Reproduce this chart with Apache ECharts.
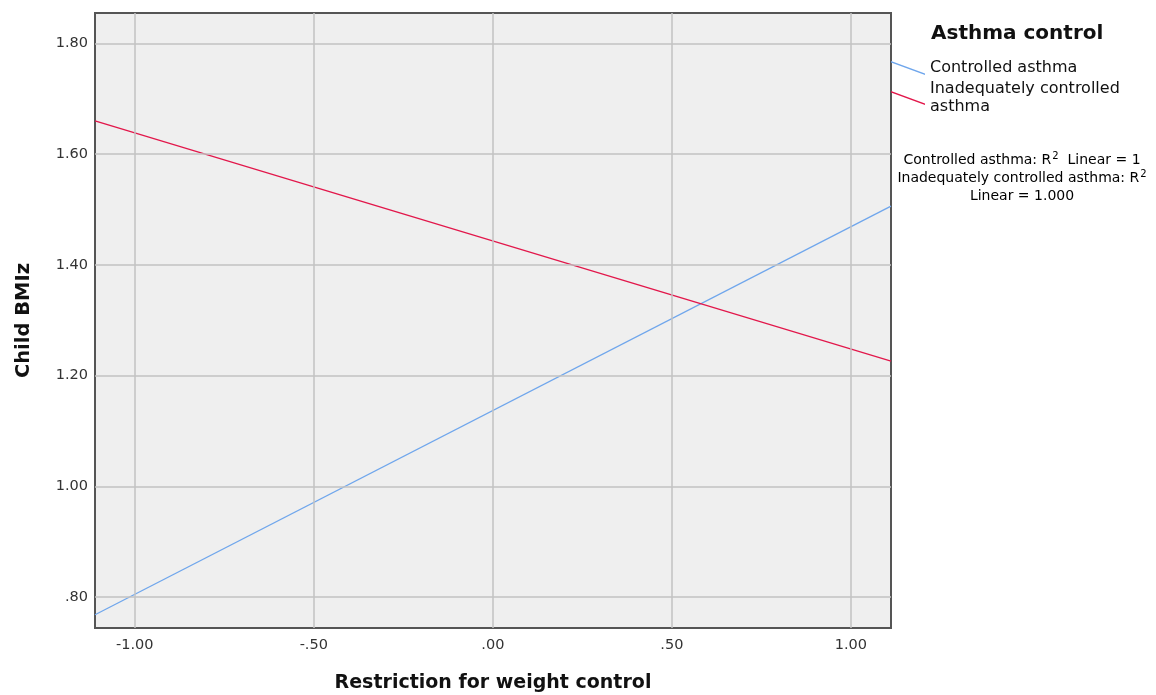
<!DOCTYPE html>
<html>
<head>
<meta charset="utf-8">
<script src="https://cdn.jsdelivr.net/npm/echarts@6/dist/echarts.min.js"></script>
<style>
html,body{margin:0;padding:0;background:#fff;}
#chart{width:1156px;height:695px;}
</style>
</head>
<body>
<div id="chart"></div>
<script>
// ---- data ----
const xRange = [-1.111, 1.112];
const controlledY = [0.768, 1.506];
const inadequateY = [1.660, 1.226];
const seriesNames = ['Controlled asthma', 'Inadequately controlled asthma'];
const xTicks = [-1.0, -0.5, 0.0, 0.5, 1.0];
const yTicks = [0.8, 1.0, 1.2, 1.4, 1.6, 1.8];
const legendTitle = 'Asthma control';
const xTitle = 'Restriction for weight control';
const yTitle = 'Child BMIz';

const BLUE = '#6fa6ec';
const RED = '#e2174b';
const FONT = 'DejaVu Sans';

function fmt(v) {
  let s = Math.abs(v).toFixed(2);
  if (s.startsWith('0')) s = s.slice(1);
  return (v < -1e-9 ? '-' : '') + s;
}

const chart = echarts.init(document.getElementById('chart'), null, {renderer: 'canvas'});

const gridMarks = [];
xTicks.forEach(v => gridMarks.push({xAxis: v}));
yTicks.forEach(v => gridMarks.push({yAxis: v}));

const iconPath = 'path://M0,0 L0,1.4 L34,14 L34,12.6 Z';

const option = {
  animation: false,
  backgroundColor: '#ffffff',
  title: {
    text: legendTitle,
    left: 931,
    top: 24,
    padding: [0,0,0,0],
    textStyle: {fontFamily: FONT, fontWeight: 'bold', fontSize: 20, color: '#111'}
  },
  legend: {
    orient: 'vertical',
    left: 891,
    top: 59,
    padding: 0,
    itemWidth: 34,
    itemHeight: 14,
    itemGap: 3,
    data: [
      {name: seriesNames[0], icon: iconPath},
      {name: seriesNames[1], icon: iconPath}
    ],
    formatter: function (n) { return n === seriesNames[1] ? 'Inadequately controlled\nasthma' : n; },
    textStyle: {fontFamily: FONT, fontSize: 16, color: '#111', lineHeight: 18, padding: [0,0,0,0]}
  },
  grid: {
    left: 95, right: 265, top: 13, bottom: 67,
    outerBoundsMode: 'none',
    containLabel: false,
    show: true,
    backgroundColor: '#efefef',
    borderColor: '#555',
    borderWidth: 2
  },
  xAxis: {
    type: 'value',
    min: xRange[0],
    max: xRange[1],
    name: xTitle,
    nameLocation: 'middle',
    nameGap: 46,
    nameTextStyle: {fontFamily: FONT, fontWeight: 'bold', fontSize: 19, color: '#111'},
    axisLine: {show: false},
    axisTick: {show: false},
    splitLine: {show: false},
    axisLabel: {
      customValues: xTicks,
      formatter: fmt,
      fontFamily: FONT, fontSize: 14.5, color: '#333', margin: 10
    }
  },
  yAxis: {
    type: 'value',
    min: 0.744,
    max: 1.855,
    name: yTitle,
    nameLocation: 'middle',
    nameGap: 61,
    nameRotate: 90,
    nameTextStyle: {fontFamily: FONT, fontWeight: 'bold', fontSize: 19.5, color: '#111'},
    axisLine: {show: false},
    axisTick: {show: false},
    splitLine: {show: false},
    axisLabel: {
      customValues: yTicks,
      formatter: fmt,
      fontFamily: FONT, fontSize: 14.5, color: '#333', margin: 7
    }
  },
  graphic: [{
    type: 'text',
    x: 1022,
    y: 151,
    style: {
      text: '{t|Controlled asthma: R}{s|2}{t|  Linear = 1}\n{t|Inadequately controlled asthma: R}{s|2}\n{t|Linear = 1.000}',
      align: 'center',
      verticalAlign: 'top',
      rich: {
        t: {fontFamily: FONT, fontSize: 14, color: '#222', lineHeight: 18, align: 'center'},
        s: {fontFamily: FONT, fontSize: 10, color: '#222', lineHeight: 18, verticalAlign: 'top', padding: [0,0,7,1], align: 'center'}
      }
    }
  }],
  series: [
    {
      type: 'line',
      name: '__grid',
      data: [],
      z: 1,
      silent: true,
      markLine: {
        silent: true,
        symbol: 'none',
        label: {show: false},
        lineStyle: {color: '#c2c2c2', width: 1.5, type: 'solid'},
        data: gridMarks
      }
    },
    {
      type: 'line',
      name: seriesNames[0],
      data: xRange.map((x, i) => [x, controlledY[i]]),
      showSymbol: false,
      color: BLUE,
      lineStyle: {color: BLUE, width: 1.3},
      z: 3
    },
    {
      type: 'line',
      name: seriesNames[1],
      data: xRange.map((x, i) => [x, inadequateY[i]]),
      showSymbol: false,
      color: RED,
      lineStyle: {color: RED, width: 1.3},
      z: 3
    }
  ]
};
chart.setOption(option);
</script>
</body>
</html>
